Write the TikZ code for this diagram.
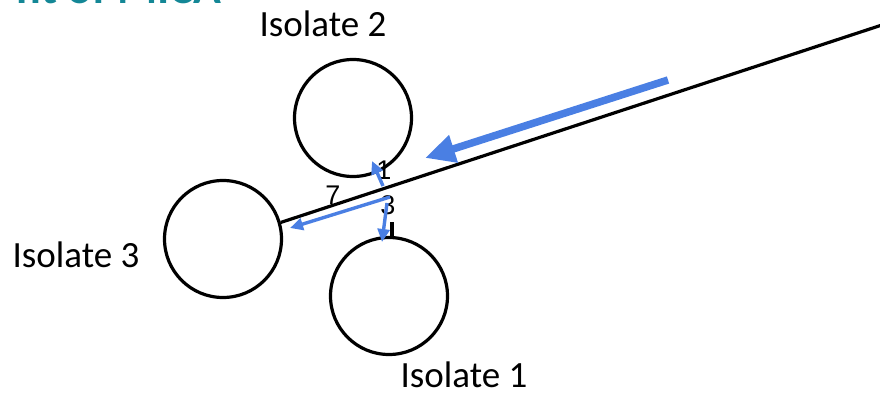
\documentclass[tikz,border=0pt]{standalone}
\usepackage{fontspec}
\setmainfont{Carlito}
\newfontfamily\arialf{Liberation Sans}
\usetikzlibrary{arrows.meta}
\definecolor{arrowblue}{RGB}{74,127,227}
\definecolor{titleteal}{RGB}{20,135,150}
\begin{document}
\begin{tikzpicture}[x=1pt,y=-1pt,
  isolate/.style={circle,draw=black,line width=3.2pt,minimum size=117pt,inner sep=0pt},
  isolabel/.style={font=\fontsize{37}{40}\selectfont,inner sep=0pt,anchor=base},
  numlabel/.style={font=\arialf\fontsize{27}{30}\selectfont,inner sep=0pt},
  thinarrow/.style={draw=arrowblue,line width=3.4pt,-{Triangle[length=13pt,width=12pt]}},
  bigarrow/.style={draw=arrowblue,line width=7.5pt,-{Triangle[length=30pt,width=27pt]}},
  mainline/.style={draw=black,line width=3.2pt}]
\useasboundingbox (0,0) rectangle (880,396);
\clip (0,0) rectangle (880,396);
% title (cut off at the top)
\node[font=\bfseries\fontsize{46}{50}\selectfont,text=titleteal,anchor=base east,inner sep=0pt] (title) at (222,4) {nt of MICA};
% isolates
\node[isolate] (iso2) at (353,118) {};
\node[isolate] (iso3) at (223,239) {};
\node[isolate] (iso1) at (389,296) {};
\node[isolabel] (l2) at (323,37) {Isolate 2};
\node[isolabel] (l3) at (76,267) {Isolate 3};
\node[isolabel] (l1) at (464,387) {Isolate 1};
% main line
\coordinate (far) at (885,24);
\draw[mainline] (iso3.16) -- (far);
\coordinate (stubtop) at (392,222);
\draw[mainline] (stubtop) -- (stubtop |- iso1.north);
% numbers
\node[numlabel] (n1) at (384,170) {1};
\node[numlabel] (n3) at (388,205) {3};
\node[numlabel] (n7) at (333,195) {7};
% thin arrows
\coordinate (s1) at (383,186);
\coordinate (t1) at (372,161);
\coordinate (s3) at (390,197);
\coordinate (t3) at (290,228);
\coordinate (s2) at (387,203);
\coordinate (t2) at (382,242);
\draw[thinarrow] (s1) -- (t1);
\draw[thinarrow] (s3) -- (t3);
\draw[thinarrow] (s2) -- (t2);
% big arrow
\coordinate (bs) at (668,80);
\coordinate (bt) at (425,158);
\draw[bigarrow] (bs) -- (bt);
\end{tikzpicture}
\end{document}
